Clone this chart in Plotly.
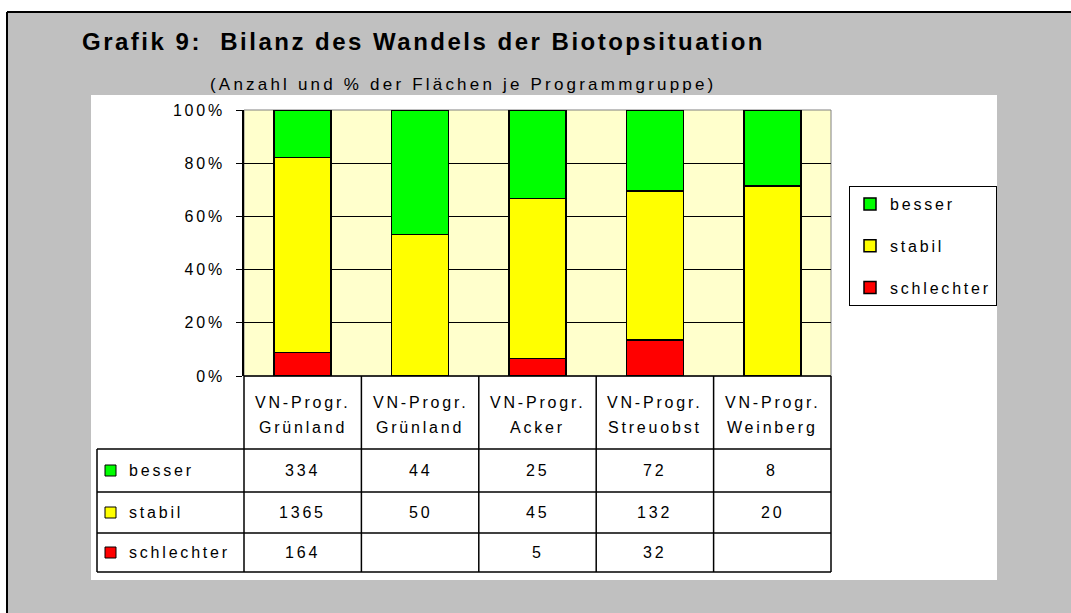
import plotly.graph_objects as go

# ---------------- data ----------------
categories = ["VN-Progr.\nGrünland", "VN-Progr.\nGrünland", "VN-Progr.\nAcker",
              "VN-Progr.\nStreuobst", "VN-Progr.\nWeinberg"]
besser = [334, 44, 25, 72, 8]
stabil = [1365, 50, 45, 132, 20]
schlechter = [164, None, 5, 32, None]
series_names = ["besser", "stabil", "schlechter"]
series_colors = ["#00FF00", "#FFFF00", "#FF0000"]
y_tick_values = [0, 20, 40, 60, 80, 100]
y_tick_labels = ["0%", "20%", "40%", "60%", "80%", "100%"]
title_text = "Grafik 9:  Bilanz des Wandels der Biotopsituation"
subtitle_text = "(Anzahl und % der Flächen je Programmgruppe)"

series_values = {"besser": besser, "stabil": stabil, "schlechter": schlechter}
series_color = dict(zip(series_names, series_colors))

# ---------------- layout constants (pixels) ----------------
W, H = 1071, 613
PLOT_L, PLOT_R, PLOT_T, PLOT_B = 244, 831, 110, 376
TABLE_L = 97
ROW_Y = [376, 449, 492, 533, 572]
FONT = "Liberation Sans, Arial, sans-serif"
LS = 2.8  # letter spacing to mimic the wide bitmap font


def px(x):
    return x / W


def py(y):
    return 1 - y / H


def ls(text, spacing=LS):
    return f'<span style="letter-spacing:{spacing}px">{text}</span>'


n = len(categories)
xs = list(range(n))

fig = go.Figure()

# stacked bars, bottom to top
for name in ["schlechter", "stabil", "besser"]:
    fig.add_trace(go.Bar(
        x=xs, y=series_values[name], name=ls(name), legendgroup=name,
        legendrank=series_names.index(name) + 1,
        marker=dict(color=series_color[name], line=dict(color="black", width=1.5)),
        width=0.485, hovertemplate=name + ": %{y:.1f}%<extra></extra>",
    ))

shapes = []
# grey frame with black top/left border
shapes.append(dict(type="rect", xref="paper", yref="paper", x0=px(7), x1=1,
                   y0=0, y1=py(12), fillcolor="#C0C0C0", line=dict(width=0), layer="below"))
shapes.append(dict(type="line", xref="paper", yref="paper", x0=px(7), x1=1,
                   y0=py(12), y1=py(12), line=dict(color="black", width=2), layer="below"))
shapes.append(dict(type="line", xref="paper", yref="paper", x0=px(7), x1=px(7),
                   y0=0, y1=py(12), line=dict(color="black", width=2), layer="below"))
# white chart area
shapes.append(dict(type="rect", xref="paper", yref="paper", x0=px(91), x1=px(997),
                   y0=py(580), y1=py(95), fillcolor="white", line=dict(width=0), layer="below"))
# plot background
shapes.append(dict(type="rect", xref="paper", yref="paper", x0=px(PLOT_L), x1=px(PLOT_R),
                   y0=py(PLOT_B), y1=py(PLOT_T), fillcolor="#FFFFCC",
                   line=dict(color="#808080", width=1), layer="below"))

# data table grid
col_w = (PLOT_R - PLOT_L) / n
for j in range(n + 1):
    xj = PLOT_L + j * col_w
    shapes.append(dict(type="line", xref="paper", yref="paper", x0=px(xj), x1=px(xj),
                       y0=py(ROW_Y[0]), y1=py(ROW_Y[-1]), line=dict(color="black", width=1.5)))
shapes.append(dict(type="line", xref="paper", yref="paper", x0=px(TABLE_L), x1=px(TABLE_L),
                   y0=py(ROW_Y[1]), y1=py(ROW_Y[-1]), line=dict(color="black", width=1.5)))
shapes.append(dict(type="line", xref="paper", yref="paper", x0=px(PLOT_L), x1=px(PLOT_R),
                   y0=py(ROW_Y[0]), y1=py(ROW_Y[0]), line=dict(color="black", width=1.5)))
for yv in ROW_Y[1:]:
    shapes.append(dict(type="line", xref="paper", yref="paper", x0=px(TABLE_L), x1=px(PLOT_R),
                       y0=py(yv), y1=py(yv), line=dict(color="black", width=1.5)))

annotations = []
# title & subtitle
annotations.append(dict(text=ls(f"<b>{title_text}</b>", 2.5), xref="paper", yref="paper",
                        x=px(80), y=py(41), xanchor="left", yanchor="middle", showarrow=False,
                        font=dict(family=FONT, size=24, color="black")))
annotations.append(dict(text=ls(subtitle_text, 3.2), xref="paper", yref="paper",
                        x=px(208), y=py(84), xanchor="left", yanchor="middle", showarrow=False,
                        font=dict(family=FONT, size=17, color="black")))

# table header (category names)
for j, cat in enumerate(categories):
    line1, line2 = cat.split("\n")
    for txt, yc in ((line1, 402), (line2, 427)):
        annotations.append(dict(text=ls(txt), xref="x", yref="paper", x=xs[j], y=py(yc),
                                xanchor="center", yanchor="middle", showarrow=False,
                                font=dict(family=FONT, size=16, color="black")))

# table rows: legend key, series name, counts
for i, name in enumerate(series_names):
    y0, y1 = ROW_Y[i + 1], ROW_Y[i + 2]
    yc = (y0 + y1) / 2
    shapes.append(dict(type="rect", xref="paper", yref="paper", x0=px(105), x1=px(116),
                       y0=py(yc + 5.5), y1=py(yc - 5.5), fillcolor=series_color[name],
                       line=dict(color="black", width=1)))
    annotations.append(dict(text=ls(name), xref="paper", yref="paper", x=px(127), y=py(yc),
                            xanchor="left", yanchor="middle", showarrow=False,
                            font=dict(family=FONT, size=16, color="black")))
    for j, v in enumerate(series_values[name]):
        if v is None:
            continue
        annotations.append(dict(text=ls(str(v)), xref="x", yref="paper", x=xs[j], y=py(yc),
                                xanchor="center", yanchor="middle", showarrow=False,
                                font=dict(family=FONT, size=16, color="black")))

fig.update_layout(
    width=W, height=H, autosize=False,
    margin=dict(l=0, r=0, t=0, b=0, pad=0, autoexpand=False),
    paper_bgcolor="white", plot_bgcolor="rgba(0,0,0,0)",
    barmode="stack", barnorm="percent", bargap=0.5,
    font=dict(family=FONT, size=16, color="black"),
    showlegend=True,
    legend=dict(x=px(849), y=py(186), xanchor="left", yanchor="top",
                bgcolor="white", bordercolor="black", borderwidth=1,
                font=dict(family=FONT, size=16, color="black"),
                traceorder="grouped", tracegroupgap=18, itemwidth=30),
    xaxis=dict(domain=[px(PLOT_L), px(PLOT_R)], range=[-0.5, n - 0.5], automargin=False,
               showticklabels=False, showgrid=False, zeroline=False, showline=False, ticks=""),
    yaxis=dict(domain=[py(PLOT_B), py(PLOT_T)], range=[0, 100], automargin=False,
               tickvals=y_tick_values, ticktext=[ls(t) for t in y_tick_labels],
               ticks="outside", ticklen=6, tickcolor="black", tickwidth=1,
               showline=True, linecolor="black", linewidth=1.5,
               showgrid=True, gridcolor="black", gridwidth=1, zeroline=False,
               ticklabelstandoff=8, tickfont=dict(family=FONT, size=16, color="black")),
    shapes=shapes, annotations=annotations,
)

fig.write_html(
    "out.html",
    config={"displayModeBar": False},
    post_script="document.body.style.margin='0';document.body.style.overflow='hidden';",
)
